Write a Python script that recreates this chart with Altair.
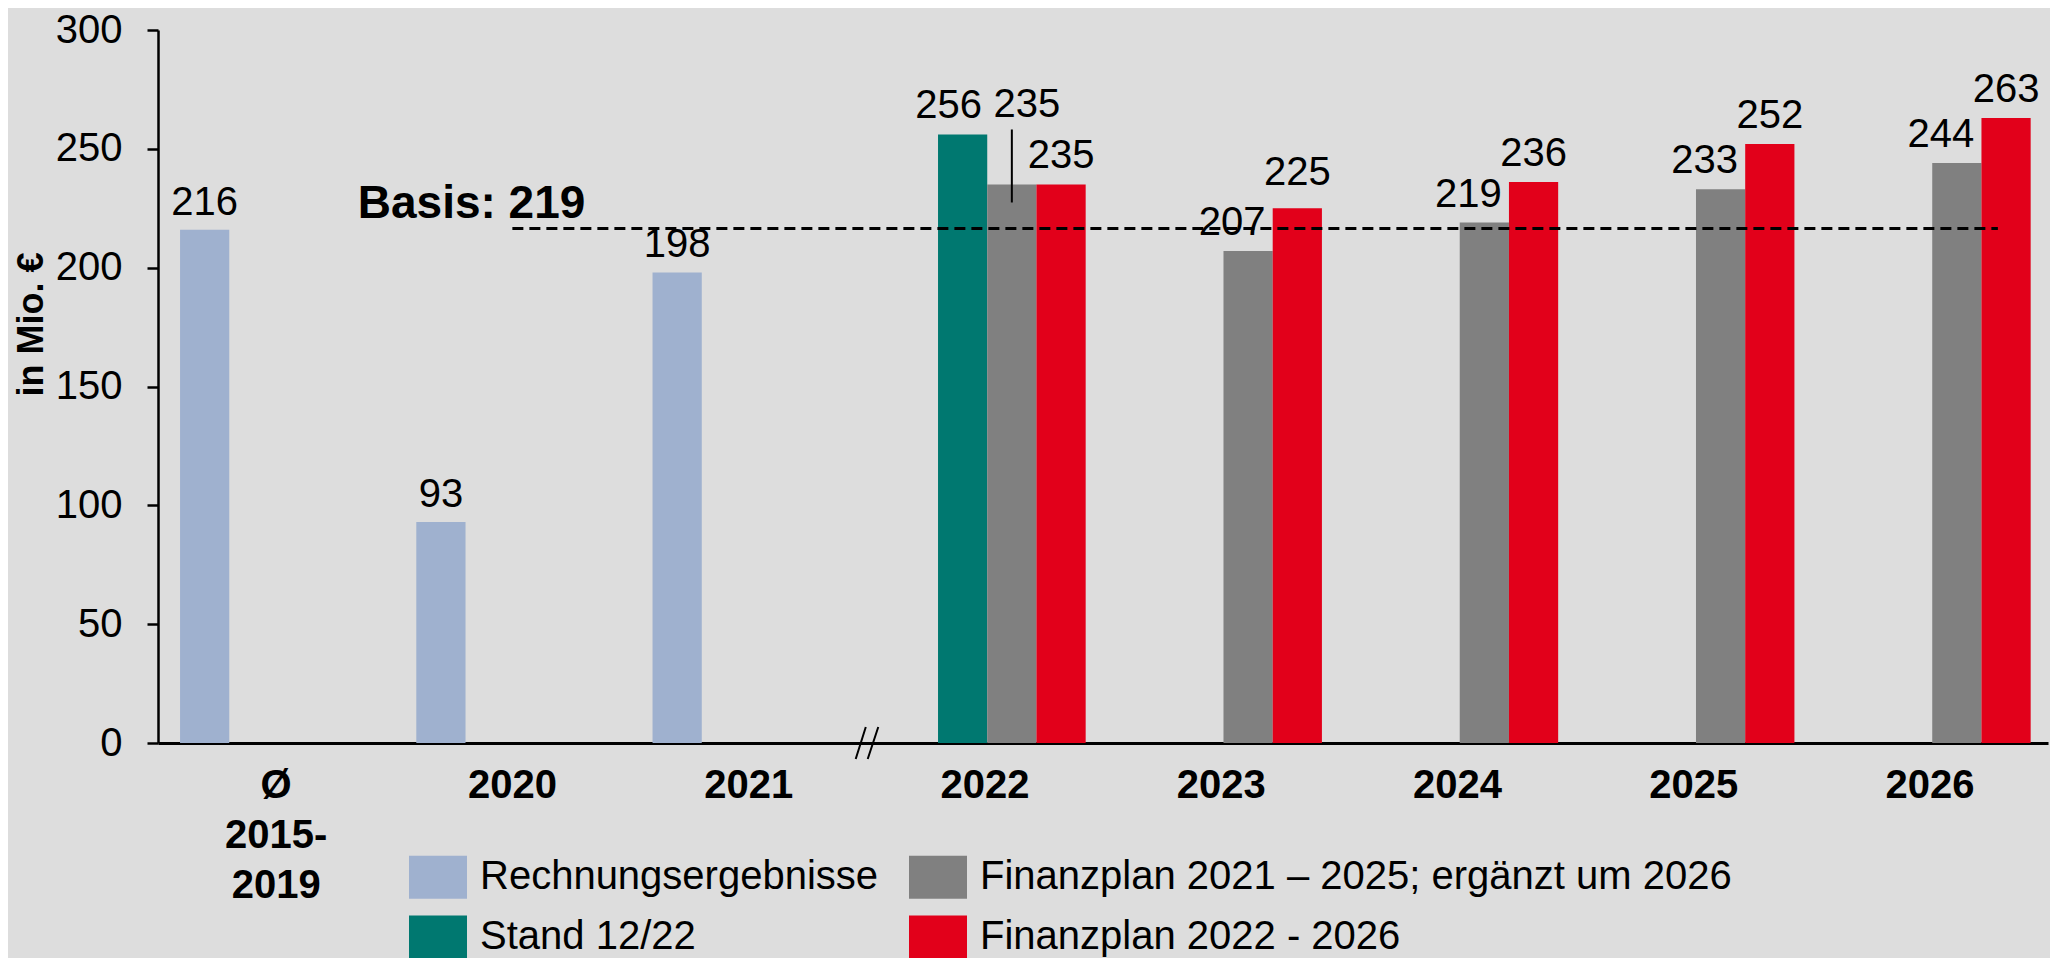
import altair as alt
import pandas as pd

FONT = "Liberation Sans, Arial, sans-serif"

# ---------------- data ----------------
categories = ["Ø\n2015-\n2019", "2020", "2021", "2022", "2023", "2024", "2025", "2026"]

s_rech = "Rechnungsergebnisse"
s_stand = "Stand 12/22"
s_fp21 = "Finanzplan 2021 – 2025; ergänzt um 2026"
s_fp22 = "Finanzplan 2022 - 2026"
series_slots = [s_rech, s_stand, s_fp21, s_fp22]          # order of bars in a group (and legend, column-wise)
series_colors = ["#9FB1CF", "#007870", "#808080", "#E2001A"]

rech_cats = ["Ø\n2015-\n2019", "2020", "2021"]
rech_vals = [216, 93, 198]
stand_cats = ["2022"]
stand_vals = [256]
fp21_cats = ["2022", "2023", "2024", "2025", "2026"]
fp21_vals = [235, 207, 219, 233, 244]
fp22_cats = ["2022", "2023", "2024", "2025", "2026"]
fp22_vals = [235, 225, 236, 252, 263]

basis_label_value = 219
basis_line_value = 216.5
y_ticks = [0, 50, 100, 150, 200, 250, 300]

rows = []
for s, cs, vs in [(s_rech, rech_cats, rech_vals), (s_stand, stand_cats, stand_vals),
                  (s_fp21, fp21_cats, fp21_vals), (s_fp22, fp22_cats, fp22_vals)]:
    for c, v in zip(cs, vs):
        rows.append({"cat": c, "series": s, "value": v})
df = pd.DataFrame(rows)

# ---------------- encodings ----------------
x_enc = alt.X(
    "cat:N",
    sort=categories,
    scale=alt.Scale(domain=categories, paddingInner=0, paddingOuter=0),
    axis=alt.Axis(
        title=None, ticks=False, domainColor="black", domainWidth=3,
        labelFontSize=40, labelFontWeight="bold", labelFont=FONT, labelColor="black",
        labelPadding=22, labelLineHeight=50, labelAngle=0, labelBaseline="top",
        labelOverlap=False, labelExpr="split(datum.label, '\\n')",
    ),
)
xo_enc = alt.XOffset(
    "series:N",
    scale=alt.Scale(domain=series_slots, paddingInner=0, paddingOuter=0.4, align=0.56),
)
y_enc = alt.Y(
    "value:Q",
    scale=alt.Scale(domain=[0, 300], nice=False, zero=True),
    axis=alt.Axis(
        values=y_ticks, grid=False, domainColor="black", domainWidth=2.5,
        tickColor="black", tickWidth=2.5, tickSize=11,
        labelFontSize=40, labelFont=FONT, labelColor="black", labelPadding=25,
        title="in Mio. €", titleFontSize=36, titleFont=FONT, titleFontWeight="bold",
        titleColor="black", titleAngle=270, titleAlign="center",
        titleBaseline="alphabetic", titleX=-116, titleY=294,
    ),
)

bars = alt.Chart(df).mark_bar().encode(
    x=x_enc, xOffset=xo_enc, y=y_enc,
    color=alt.Color(
        "series:N",
        scale=alt.Scale(domain=series_slots, range=series_colors),
        legend=alt.Legend(
            orient="none", legendX=251, legendY=818, columns=2, title=None,
            symbolType="M-1,-0.74L1,-0.74L1,0.74L-1,0.74Z", symbolSize=3364,
            symbolStrokeWidth=0, symbolOpacity=1,
            labelFontSize=40, labelFont=FONT, labelColor="black", labelOffset=13,
            labelLimit=900, columnPadding=30, rowPadding=9, padding=0,
        ),
    ),
)


def labels(data, dx, dy):
    return alt.Chart(data).mark_text(
        dx=dx, dy=dy, baseline="alphabetic", align="center",
        fontSize=40, font=FONT, color="black",
    ).encode(x=x_enc, xOffset=xo_enc, y=y_enc, text="value:Q")


special = (df["series"] == s_fp21) & (df["cat"] == "2022")
raised = (df["series"] == s_fp22) & (df["cat"] == "2023")
lab_rech = labels(df[df["series"] == s_rech], 0, -15)
lab_stand = labels(df[df["series"] == s_stand], -14, -17)
lab_fp21 = labels(df[(df["series"] == s_fp21) & ~special], -16, -16)
lab_fp22 = labels(df[(df["series"] == s_fp22) & ~raised], 0, -16)
lab_fp22_raised = labels(df[raised], 0, -23)
lab_special = labels(df[special], 15, -67)

leader = alt.Chart(df[special]).mark_rule(
    color="black", strokeWidth=2, yOffset=-55, y2Offset=18
).encode(x=x_enc, xOffset=xo_enc, y=y_enc, y2=alt.Y2("value:Q"))

basis_df = pd.DataFrame({"value": [basis_line_value],
                         "label": [f"Basis: {basis_label_value}"]})
basis_line = alt.Chart(basis_df).mark_rule(
    color="black", strokeWidth=3, strokeDash=[11, 6], x2Offset=68
).encode(x=alt.XDatum("2020"), x2=alt.X2Datum("2026"), y=y_enc)

basis_text = alt.Chart(basis_df).mark_text(
    align="right", baseline="alphabetic", dx=73, dy=-10,
    fontSize=46, fontWeight="bold", font=FONT, color="black",
).encode(x=alt.XDatum("2020"), y=y_enc, text="label:N")

break_df = pd.DataFrame({"value": [0]})
axis_break = alt.Chart(break_df).mark_point(
    shape="M-0.69,1L-0.06,-1M0.06,1L0.72,-1", size=1024, filled=False,
    color="black", strokeWidth=2, opacity=1,
).encode(x=alt.XDatum("2022", bandPosition=0), y=y_enc)

chart = alt.layer(
    bars, basis_line, basis_text, leader,
    lab_rech, lab_stand, lab_fp21, lab_fp22, lab_fp22_raised, lab_special, axis_break,
).properties(
    width=1890, height=713, background="#DDDDDD",
    padding={"left": 150, "top": 22, "right": 2, "bottom": 215},
    autosize=alt.AutoSizeParams(type="none"),
).configure_view(stroke=None)

chart.save("out.html", embed_options={"renderer": "svg", "actions": False})
